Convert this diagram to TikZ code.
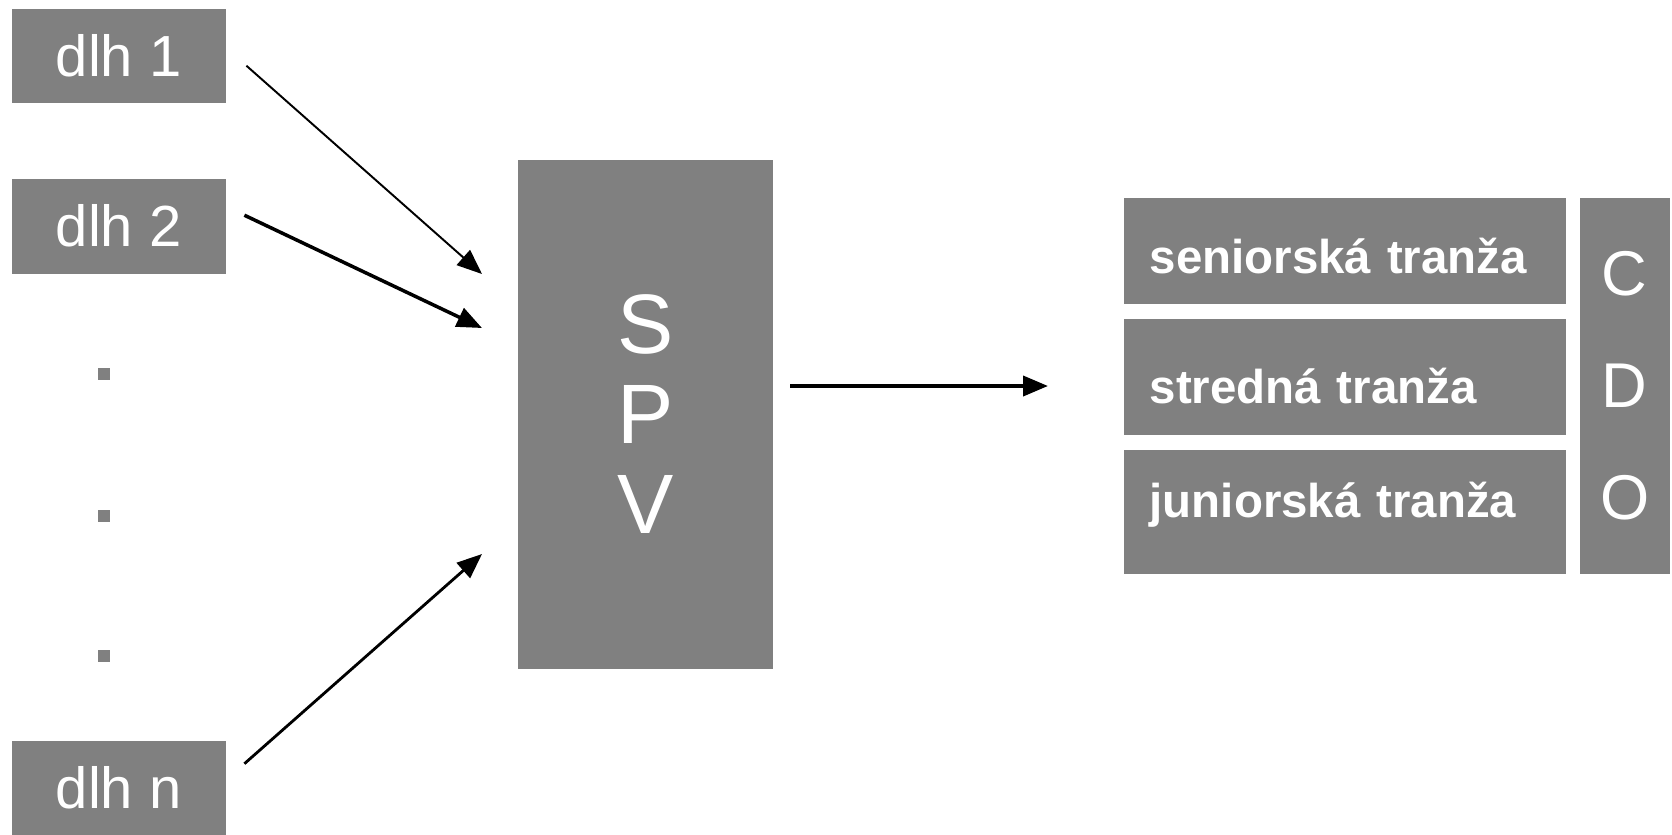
\documentclass[tikz,border=0pt]{standalone}
\usepackage{fontspec}
\setmainfont{Liberation Sans}
\usepackage{tikz}
\usetikzlibrary{arrows.meta, positioning}
\usepackage{xcolor}
\definecolor{boxgray}{RGB}{128,128,128}

\begin{document}
\begin{tikzpicture}[
  block/.style={rectangle, fill=boxgray, text=white, inner sep=0pt, anchor=north west},
  loan/.style={block, minimum width=2.14cm, font=\fontsize{16.5}{19}\selectfont},
  tranche/.style={block, minimum width=4.42cm, inner xsep=0.26cm, text width=3.90cm,
                  align=left, font=\bfseries\fontsize{13.5}{16}\selectfont},
  dot/.style={rectangle, fill=boxgray, inner sep=0pt, minimum size=0.12cm},
  arrow/.style={-{Triangle[length=0.25cm, width=0.2cm]}, black}
]
\useasboundingbox (0,0) rectangle (16.72,-8.34);

\node[loan, minimum height=0.94cm] (d1) at (0.11,-0.08) {dlh 1};
\node[loan, minimum height=0.95cm] (d2) at (0.11,-1.78) {dlh 2};
\node[loan, minimum height=0.95cm] (dn) at (0.11,-7.40) {dlh n};
\foreach \y/\n in {3.74/1, 5.16/2, 6.56/3}
  \node[dot] (dot\n) at (1.04,-\y) {};

\node[block, minimum width=2.55cm, minimum height=5.09cm, align=center,
      font=\fontsize{24}{25.6}\selectfont] (spv) at (5.17,-1.59) {S\\P\\V};

\node[tranche, minimum height=1.06cm, text height=0.45cm, text depth=0cm]
  (senior) at (11.23,-1.97) {seniorská tranža};
\node[tranche, minimum height=1.16cm, text height=0.53cm, text depth=0cm]
  (mezz)   at (11.23,-3.18) {stredná tranža};
\node[tranche, minimum height=1.24cm, text height=0.35cm, text depth=0.24cm]
  (junior) at (11.23,-4.49) {juniorská tranža};
\node[block, minimum width=0.90cm, minimum height=3.76cm, align=center,
      font=\fontsize{18}{32}\selectfont] (cdo) at (15.79,-1.97) {C\\D\\O};

\coordinate (tip1) at (4.82,-2.74);
\coordinate (tip2) at (4.82,-3.28);
\coordinate (tipn) at (4.82,-5.54);
\coordinate (out)  at (10.48,-3.86);

\draw[arrow, line width=0.55pt] ([shift={(0.20,-0.10)}]d1.east) -- (tip1);
\draw[arrow, line width=1pt]    ([shift={(0.18,0.11)}]d2.east)  -- (tip2);
\draw[arrow, line width=0.8pt]  ([shift={(0.18,0.245)}]dn.east) -- (tipn);
\draw[arrow, line width=1.1pt, shorten <=0.17cm] (spv.east |- out) -- (out);
\end{tikzpicture}
\end{document}
